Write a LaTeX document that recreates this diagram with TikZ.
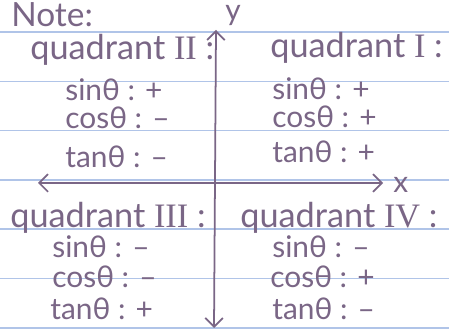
\documentclass[tikz,border=0pt]{standalone}
\usepackage{fontspec}
\setmainfont{Lato}
\newfontfamily\romfont{Liberation Serif}
\usetikzlibrary{positioning}
\usetikzlibrary{arrows.meta}
\definecolor{ink}{RGB}{122,102,134}
\definecolor{paperline}{RGB}{176,196,232}
\newcommand{\rn}[1]{{\romfont #1}}

\begin{document}
\begin{tikzpicture}[x=0.02cm, y=-0.02cm, >={Straight Barb[length=5pt, width=10pt]},
    txt/.style={anchor=west, inner sep=0pt, text=ink, font=\fontsize{17}{20}\selectfont},
    head/.style={txt, font=\fontsize{19.5}{22}\selectfont},
    axis/.style={<->, draw=ink, line width=1pt}]
    % Paper
    \fill[white] (0,0) rectangle (449,330);
    \useasboundingbox (0,0) rectangle (449,330);
    \foreach \i in {0,...,6}
        \draw[paperline, line width=0.9pt] (0,{32+49.3*\i}) -- (449,{32+49.3*\i});

    \node[txt, font=\fontsize{19}{21}\selectfont] (note) at (11,15) {Note:};

    % Axes
    \coordinate (ytop) at (216,30);
    \coordinate (ybot) at (214,328);
    \coordinate (xleft) at (38,183);
    \coordinate (xright) at (383,183);
    \draw[axis] (ybot) -- (ytop);
    \draw[axis] (xleft) -- (xright);
    \node[txt] (ylab) at (225,16) {y};
    \node[txt] (xlab) at (393,185) {x};

    % Quadrant II
    \node[head] (q2) at (30,50) {quadrant \rn{II} :};
    \node[txt] (sin2) at (65,90) {sinθ : +};
    \node[txt] (cos2) at (65,118) {cosθ : –};
    \node[txt] (tan2) at (65,157) {tanθ : –};

    % Quadrant I
    \node[head] (q1) at (270,48) {quadrant \rn{I} :};
    \node[txt] (sin1) at (272,89) {sinθ : +};
    \node[txt] (cos1) at (272,117) {cosθ : +};
    \node[txt] (tan1) at (272,152) {tanθ : +};

    % Quadrant III
    \node[head] (q3) at (10,218) {quadrant \rn{III} :};
    \node[txt] (sin3) at (52,247) {sinθ : –};
    \node[txt] (cos3) at (52,277) {cosθ : –};
    \node[txt] (tan3) at (50,309) {tanθ : +};

    % Quadrant IV
    \node[head] (q4) at (240,218) {quadrant \rn{IV} :};
    \node[txt] (sin4) at (272,247) {sinθ : –};
    \node[txt] (cos4) at (270,277) {cosθ : +};
    \node[txt] (tan4) at (272,309) {tanθ : –};
\end{tikzpicture}
\end{document}
